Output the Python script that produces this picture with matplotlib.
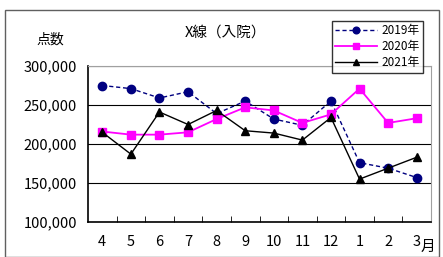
import matplotlib.pyplot as plt
from matplotlib.patches import Rectangle
from matplotlib.ticker import FuncFormatter

plt.rcParams['font.family'] = ['Noto Sans CJK JP', 'DejaVu Sans']

# Data
months = ["4", "5", "6", "7", "8", "9", "10", "11", "12", "1", "2", "3"]
y2019 = [275000, 271000, 259000, 267000, 239000, 255000, 232000, 224000, 255000, 176000, 169000, 157000]
y2020 = [216000, 212000, 212000, 215000, 232000, 247000, 243000, 227000, 238000, 271000, 227000, 233000]
y2021 = [215000, 187000, 241000, 225000, 243000, 217000, 214000, 205000, 234000, 155000, 169000, 183000]

fig = plt.figure(figsize=(4.43, 2.57), dpi=100)
ax = fig.add_axes([88 / 443, 1 - 222 / 257, 343 / 443, 156 / 257])

x = range(len(months))
ax.plot(x, y2019, color="#000080", linestyle=(0, (3, 2)), linewidth=1, marker="o",
        markersize=6, label="2019年", zorder=3)
ax.plot(x, y2020, color="#ff00ff", linewidth=1.3, marker="s",
        markersize=5.5, label="2020年", zorder=3)
ax.plot(x, y2021, color="black", linewidth=1, marker="^",
        markersize=6, label="2021年", zorder=4)

ax.set_xlim(-0.5, 11.5)
ax.set_ylim(100000, 300000)
ax.set_yticks([100000, 150000, 200000, 250000, 300000])
ax.yaxis.set_major_formatter(FuncFormatter(lambda v, p: f"{int(v):,}"))
ax.grid(axis="y", color="black", linewidth=0.8)
ax.set_xticks(list(x))
ax.set_xticklabels(months)
ax.set_xticks([i + 0.5 for i in range(11)], minor=True)
ax.tick_params(axis="x", which="major", length=0, labelsize=10.5, pad=9)
ax.tick_params(axis="x", which="minor", direction="in", length=4, color="black")
ax.tick_params(axis="y", length=0, labelsize=10.5, pad=8)

for side in ["top", "right"]:
    ax.spines[side].set_color("#a0a0a0")
for side in ["left", "bottom"]:
    ax.spines[side].set_color("black")
    ax.spines[side].set_linewidth(1.2)

fig.text(226 / 443, 1 - 33 / 257, "X線（入院）", ha="center", va="center", fontsize=10.5)
fig.text(50 / 443, 1 - 40 / 257, "点数", ha="center", va="center", fontsize=10)
fig.text(428 / 443, 1 - 247 / 257, "月", ha="center", va="center", fontsize=10.5)

leg = fig.legend(loc="upper left", bbox_to_anchor=(326 / 443, 1 - 15 / 257),
                 fontsize=8.5, frameon=True, fancybox=False, edgecolor="black",
                 borderpad=0.3, labelspacing=0.25, handlelength=3.5, handletextpad=0.4,
                 markerscale=0.8)
leg.get_frame().set_linewidth(1)

fig.patches.append(Rectangle((5 / 443, 0), 434 / 443, 1 - 10 / 257,
                             transform=fig.transFigure, fill=False,
                             edgecolor="#606060", linewidth=1))

fig.savefig("out.png", dpi=100)
